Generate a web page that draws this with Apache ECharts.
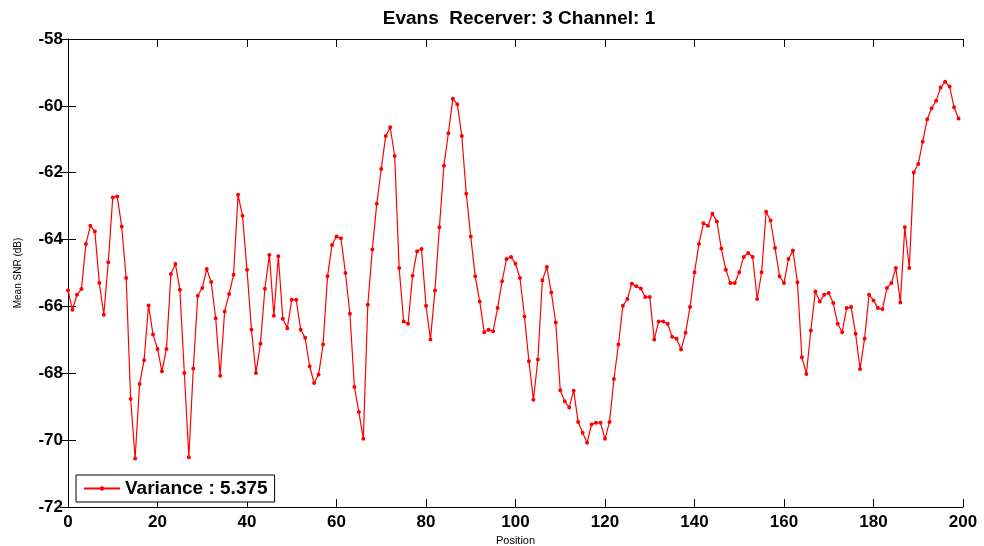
<!DOCTYPE html>
<html>
<head>
<meta charset="utf-8">
<script src="https://cdn.jsdelivr.net/npm/echarts@6/dist/echarts.min.js"></script>
<style>
  html, body { margin: 0; padding: 0; background: #fff; }
  #chart { width: 984px; height: 546px; }
</style>
</head>
<body>
<div id="chart"></div>
<script>
// Mean SNR per position, receiver 3 / channel 1
const startPosition = 0;
const snrValues = [
  -65.52, -66.10, -65.65, -65.48, -64.13, -63.59, -63.76, -65.30, -66.25, -64.68,
  -62.74, -62.71, -63.61, -65.15, -68.77, -70.55, -68.32, -67.61, -65.97, -66.84,
  -67.27, -67.94, -67.27, -65.03, -64.73, -65.50, -67.99, -70.51, -67.86, -65.68,
  -65.45, -64.88, -65.27, -66.35, -68.07, -66.15, -65.63, -65.05, -62.66, -63.29,
  -64.90, -66.70, -67.99, -67.12, -65.47, -64.46, -66.28, -64.50, -66.37, -66.65,
  -65.80, -65.80, -66.70, -66.94, -67.79, -68.29, -68.04, -67.14, -65.10, -64.16,
  -63.91, -63.96, -65.00, -66.22, -68.41, -69.16, -69.96, -65.95, -64.30, -62.93,
  -61.89, -60.90, -60.64, -61.50, -64.85, -66.45, -66.52, -65.08, -64.35, -64.28,
  -65.98, -66.99, -65.52, -63.63, -61.79, -60.82, -59.79, -59.95, -60.90, -62.63,
  -63.91, -65.10, -65.85, -66.77, -66.70, -66.74, -66.05, -65.25, -64.58, -64.52,
  -64.72, -65.15, -66.30, -67.64, -68.79, -67.59, -65.22, -64.82, -65.58, -66.48,
  -68.51, -68.84, -69.02, -68.52, -69.46, -69.78, -70.08, -69.53, -69.48, -69.48,
  -69.96, -69.46, -68.17, -67.14, -65.98, -65.78, -65.32, -65.40, -65.46, -65.72,
  -65.72, -66.99, -66.45, -66.45, -66.52, -66.91, -66.97, -67.29, -66.79, -66.02,
  -64.98, -64.13, -63.51, -63.59, -63.23, -63.46, -64.27, -64.90, -65.30, -65.30,
  -64.98, -64.52, -64.40, -64.52, -65.78, -64.98, -63.17, -63.43, -64.25, -65.10,
  -65.30, -64.58, -64.33, -65.28, -67.52, -68.02, -66.72, -65.55, -65.85, -65.65,
  -65.60, -65.90, -66.52, -66.77, -66.05, -66.02, -66.82, -67.87, -66.97, -65.65,
  -65.82, -66.05, -66.08, -65.45, -65.30, -64.85, -65.88, -63.63, -64.85, -61.99,
  -61.74, -61.07, -60.40, -60.07, -59.85, -59.45, -59.28, -59.42, -60.04, -60.38
];
const seriesName = 'Variance : 5.375';
const titleText = 'Evans  Recerver: 3 Channel: 1';
const xRange = [0, 200, 20];
const yRange = [-72, -58, 2];

const points = snrValues.map((v, i) => [startPosition + i, v]);

const font = 'Liberation Sans, Arial, sans-serif';
const tickStyle = { show: true, inside: true, length: 8, lineStyle: { color: '#000', width: 1 } };
const lineStyle = { show: true, lineStyle: { color: '#000', width: 1 } };

const chart = echarts.init(document.getElementById('chart'), null, { renderer: 'canvas' });
chart.setOption({
  backgroundColor: '#fff',
  animation: false,
  title: {
    text: titleText,
    left: 514,
    top: 4,
    textAlign: 'center',
    textStyle: { fontFamily: font, fontWeight: 'bold', fontSize: 19, color: '#000' }
  },
  grid: { left: 68, right: 21, top: 39, bottom: 39, containLabel: false, outerBoundsMode: 'none' },
  legend: {
    left: 76,
    top: 475,
    orient: 'horizontal',
    itemWidth: 36,
    itemHeight: 3,
    padding: [4, 7, 4, 7],
    borderColor: '#000',
    borderWidth: 1,
    backgroundColor: '#fff',
    textStyle: { fontFamily: font, fontWeight: 'bold', fontSize: 19, color: '#000', lineHeight: 19 },
    data: [seriesName]
  },
  xAxis: [
    {
      type: 'value', position: 'bottom', min: xRange[0], max: xRange[1], interval: xRange[2],
      axisLine: lineStyle, axisTick: tickStyle, splitLine: { show: false },
      axisLabel: { fontFamily: font, fontWeight: 'bold', fontSize: 17, color: '#000', margin: 7 },
      name: 'Position', nameLocation: 'middle', nameGap: 25,
      nameTextStyle: { fontFamily: font, fontSize: 11, color: '#000' }
    },
    {
      type: 'value', position: 'top', min: xRange[0], max: xRange[1], interval: xRange[2],
      axisLine: lineStyle, axisTick: tickStyle, splitLine: { show: false },
      axisLabel: { show: false }
    }
  ],
  yAxis: [
    {
      type: 'value', position: 'left', min: yRange[0], max: yRange[1], interval: yRange[2],
      axisLine: lineStyle, axisTick: tickStyle, splitLine: { show: false },
      axisLabel: { fontFamily: font, fontWeight: 'bold', fontSize: 17, color: '#000', margin: 5 },
      name: 'Mean SNR (dB)', nameLocation: 'middle', nameGap: 45, nameRotate: 90,
      nameTextStyle: { fontFamily: font, fontSize: 10, color: '#000' }
    },
    {
      type: 'value', position: 'right', min: yRange[0], max: yRange[1], interval: yRange[2],
      axisLine: lineStyle, axisTick: tickStyle, splitLine: { show: false },
      axisLabel: { show: false }
    }
  ],
  series: [{
    name: seriesName,
    type: 'line',
    xAxisIndex: 0,
    yAxisIndex: 0,
    data: points,
    symbol: 'emptyCircle',
    symbolSize: 2,
    showAllSymbol: true,
    lineStyle: { color: '#ff0000', width: 1.2 },
    itemStyle: { color: '#ff0000', borderColor: '#ff0000', borderWidth: 1 }
  }]
});
</script>
</body>
</html>
